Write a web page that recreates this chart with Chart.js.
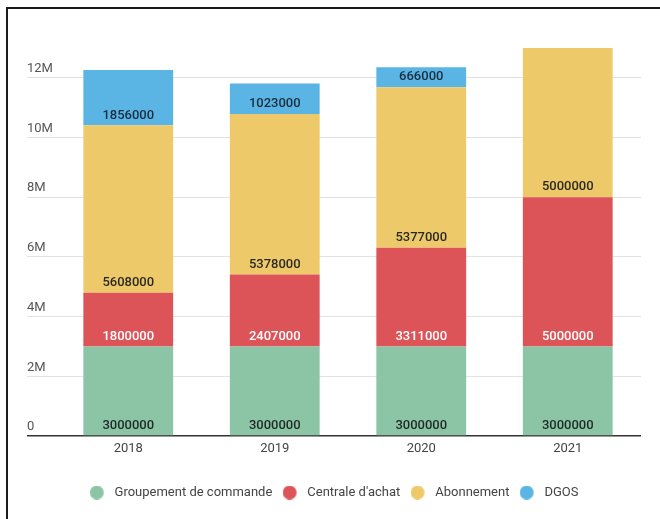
<!DOCTYPE html>
<html>
<head>
<meta charset="utf-8">
<script src="https://cdn.jsdelivr.net/npm/chart.js@4"></script>
<style>
  html, body { margin: 0; padding: 0; background: #fff; }
  #wrap { position: relative; width: 660px; height: 519px; overflow: hidden; }
  #frame { position: absolute; left: 6px; top: 7px; width: 700px; height: 600px;
           border-left: 2px solid #1b1b1b; border-top: 2px solid #1b1b1b; }
  canvas { position: absolute; left: 0; top: 0; }
</style>
</head>
<body>
<div id="wrap">
  <div id="frame"></div>
  <canvas id="budgetChart" width="660" height="519"></canvas>
</div>
<script>
// Budget par source de financement
const years = ['2018', '2019', '2020', '2021'];
const groupement = [3000000, 3000000, 3000000, 3000000];
const centrale = [1800000, 2407000, 3311000, 5000000];
const abonnement = [5608000, 5378000, 5377000, 5000000];
const dgos = [1856000, 1023000, 666000, 0];
const yTicks = [0, 2000000, 4000000, 6000000, 8000000, 10000000, 12000000];

// little round markers for the legend, drawn left in their box
function makeDot(color) {
  const c = document.createElement('canvas');
  c.width = 18; c.height = 14;
  const g = c.getContext('2d');
  g.fillStyle = color;
  g.beginPath();
  g.arc(7, 7, 7, 0, Math.PI * 2);
  g.fill();
  return c;
}

// values written near the bottom of each segment
const segmentLabels = {
  id: 'segmentLabels',
  afterDatasetsDraw(chart) {
    const ctx = chart.ctx;
    ctx.save();
    ctx.font = '500 13px Roboto';
    ctx.textAlign = 'center';
    ctx.textBaseline = 'middle';
    chart.data.datasets.forEach((ds, i) => {
      chart.getDatasetMeta(i).data.forEach((bar, j) => {
        const v = ds.data[j];
        if (!v) return;
        ctx.fillStyle = ds.labelColor;
        ctx.fillText(String(v), bar.x, bar.base - 10);
      });
    });
    ctx.restore();
  }
};

new Chart('budgetChart', {
  type: 'bar',
  data: {
    labels: years,
    datasets: [
      { label: 'Groupement de commande', data: groupement, backgroundColor: '#8cc4a6', labelColor: '#1f2a26' },
      { label: "Centrale d'achat", data: centrale, backgroundColor: '#dc5358', labelColor: '#ffffff' },
      { label: 'Abonnement', data: abonnement, backgroundColor: '#eec96a', labelColor: '#2a2a22' },
      { label: 'DGOS', data: dgos, backgroundColor: '#5ab4e4', labelColor: '#1c2e3e' }
    ]
  },
  options: {
    responsive: false,
    animation: false,
    layout: { padding: { left: 27, right: 19, top: 48, bottom: 10 } },
    datasets: { bar: { barPercentage: 0.613, categoryPercentage: 1, borderWidth: 0 } },
    scales: {
      x: {
        stacked: true,
        grid: { display: false, drawTicks: false },
        border: { display: false },
        ticks: { color: '#444', font: { family: 'Roboto', size: 13 }, padding: 5 },
        afterFit: s => { s.height = 40; }
      },
      y: {
        stacked: true,
        min: 0,
        max: 13000000,
        border: { display: false },
        grid: {
          tickLength: 28,
          color: c => (c.tick && c.tick.value === 0) ? '#333' : '#e2e2e2',
          lineWidth: c => (c.tick && c.tick.value === 0) ? 1.5 : 1
        },
        ticks: {
          crossAlign: 'far',
          labelOffset: -9,
          padding: 0,
          color: '#555',
          font: { family: 'Roboto', size: 13 },
          callback: v => v === 0 ? '0' : (v / 1000000) + 'M'
        },
        afterBuildTicks: s => { s.ticks = yTicks.map(v => ({ value: v })); },
        afterFit: s => { s.width = 28; }
      }
    },
    plugins: {
      tooltip: { enabled: false },
      legend: {
        position: 'bottom',
        labels: {
          color: '#444',
          font: { family: 'Roboto', size: 13 },
          usePointStyle: true,
          pointStyleWidth: 18.5,
          boxHeight: 14,
          padding: 10,
          generateLabels(chart) {
            const items = Chart.defaults.plugins.legend.labels.generateLabels(chart);
            items.forEach(it => {
              it.pointStyle = makeDot(it.fillStyle);
              it.lineWidth = 0;
            });
            return items;
          }
        }
      }
    }
  },
  plugins: [segmentLabels]
});
</script>
</body>
</html>
